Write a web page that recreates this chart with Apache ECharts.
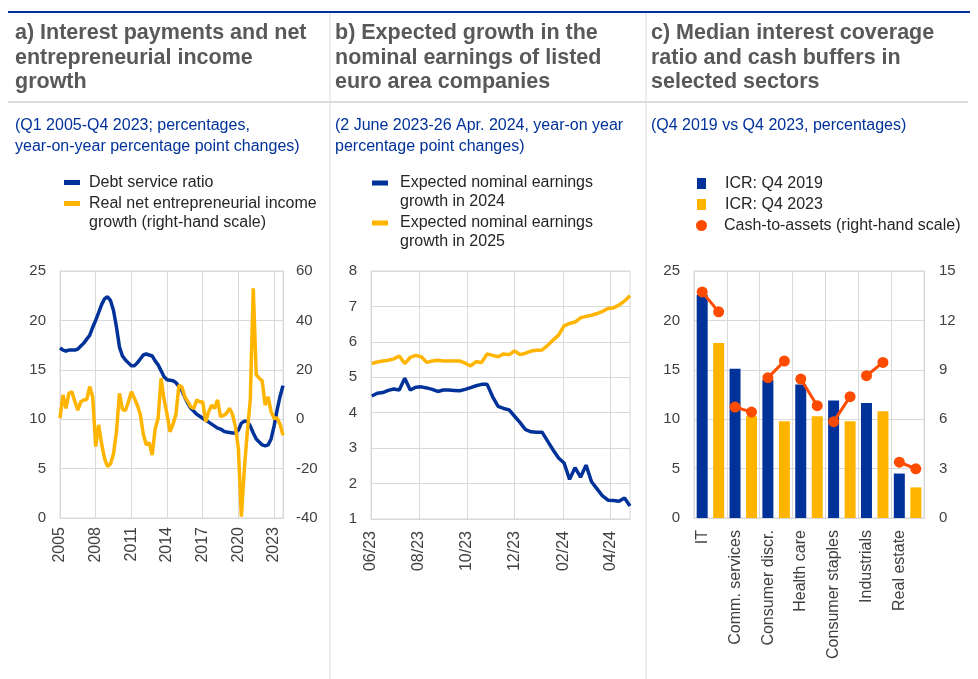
<!DOCTYPE html>
<html><head><meta charset="utf-8">
<script src="https://cdn.jsdelivr.net/npm/echarts@6/dist/echarts.min.js"></script>
<style>html,body{margin:0;padding:0;background:#fff}#c{width:978px;height:679px}</style>
</head><body><div id="c"></div>
<script>
// ---------- Panel a ----------
const panelAYears = ['2005','2006','2007','2008','2009','2010','2011','2012','2013','2014','2015','2016','2017','2018','2019','2020','2021','2022','2023'];
const debtServiceRatio = [
 17.2,17.0,16.9,17.0,17.0,17.0,17.1,17.4,17.7,18.1,
 18.5,19.3,20.0,20.8,21.6,22.2,22.4,22.0,21.0,19.3,
 17.3,16.4,16.0,15.7,15.4,15.4,15.7,16.1,16.5,16.6,
 16.5,16.4,15.9,15.5,14.9,14.3,14.0,13.95,13.9,13.7,
 13.3,12.9,12.2,11.6,11.1,10.8,10.5,10.3,10.1,9.9,
 9.7,9.5,9.3,9.1,9.0,8.8,8.7,8.65,8.6,8.6,
 8.9,9.6,9.8,9.8,9.3,8.6,8.0,7.7,7.4,7.3,
 7.4,8.0,9.3,10.9,12.3,13.4];
const entrepreneurialIncomeGrowth = [
 0.4,9.8,4.4,10.5,11.1,7.1,3.7,7.1,7.8,8.0,
 13.2,9.0,-11.1,-2.3,-10.0,-16.0,-19.2,-18.0,-14.0,-5.0,
 10.5,4.0,3.5,7.0,11.1,8.5,5.7,2.0,-6.0,-10.4,
 -9.5,-14.5,-4.0,0.4,16.6,8.0,2.0,-5.1,-2.0,2.0,
 13.8,13.0,9.0,7.1,5.0,4.4,7.8,7.0,7.1,-1.0,
 3.0,5.7,4.4,7.8,1.0,1.5,2.4,4.4,2.0,-3.0,
 -12.0,-39.5,-20.0,-5.0,8.0,53.0,18.0,16.6,15.5,5.7,
 9.1,3.0,0.4,0.5,-2.0,-6.5];

// ---------- Panel b ----------
const weekDates = [
 '2023-06-02','2023-06-09','2023-06-16','2023-06-23','2023-06-30','2023-07-07','2023-07-14','2023-07-21','2023-07-28',
 '2023-08-04','2023-08-11','2023-08-18','2023-08-25','2023-09-01','2023-09-08','2023-09-15','2023-09-22','2023-09-29',
 '2023-10-06','2023-10-13','2023-10-20','2023-10-27','2023-11-03','2023-11-10','2023-11-17','2023-11-24',
 '2023-12-01','2023-12-08','2023-12-15','2023-12-22','2023-12-29','2024-01-05','2024-01-12','2024-01-19','2024-01-26',
 '2024-02-02','2024-02-09','2024-02-16','2024-02-23','2024-03-01','2024-03-08','2024-03-15','2024-03-22','2024-03-29',
 '2024-04-05','2024-04-12','2024-04-19','2024-04-26'];
const earnings2024 = [
 4.47,4.55,4.57,4.63,4.67,4.64,4.97,4.64,4.72,4.73,
 4.70,4.66,4.60,4.64,4.64,4.63,4.62,4.66,4.71,4.76,
 4.80,4.80,4.45,4.18,4.12,4.08,3.90,3.72,3.52,3.46,
 3.45,3.45,3.20,2.95,2.72,2.58,2.12,2.45,2.18,2.52,
 2.05,1.85,1.65,1.53,1.52,1.50,1.59,1.37];
const earnings2025 = [
 5.39,5.43,5.46,5.48,5.52,5.60,5.39,5.56,5.62,5.58,
 5.42,5.46,5.48,5.46,5.46,5.46,5.46,5.40,5.32,5.44,
 5.42,5.66,5.62,5.58,5.66,5.64,5.74,5.64,5.68,5.74,
 5.76,5.77,5.90,6.05,6.19,6.45,6.52,6.56,6.68,6.72,
 6.75,6.80,6.86,6.94,6.96,7.04,7.15,7.30];
const panelBTickDates = ['2023-06-01','2023-08-01','2023-10-01','2023-12-01','2024-02-01','2024-04-01'];
const panelBTickLabels = ['06/23','08/23','10/23','12/23','02/24','04/24'];
const panelBRange = ['2023-06-01','2024-04-26'];

// ---------- Panel c ----------
const sectors = ['IT','Comm. services','Consumer discr.','Health care','Consumer staples','Industrials','Real estate'];
const icrQ42019 = [22.6,15.1,14.0,13.5,11.9,11.65,4.5];
const icrQ42023 = [17.7,10.3,9.8,10.3,9.8,10.8,3.1];
const cashToAssets2019 = [13.73,6.74,8.52,8.44,5.85,8.64,3.39];
const cashToAssets2023 = [12.52,6.43,9.53,6.82,7.37,9.45,2.99];

const BLUE = '#003299', YELLOW = '#FFB400', ORANGE = '#FF4B00';
const GRID = '#d9d9d9', AXIS_TXT = '#404040', FONT = 'Liberation Sans, Arial, sans-serif';

const quarterCats = [];
panelAYears.forEach(y => ['Q1','Q2','Q3','Q4'].forEach(q => quarterCats.push(y + ' ' + q)));
const pd = s => echarts.number.parseDate(s).getTime();
const tickTimes = panelBTickDates.map(pd);

const nameDSR = 'Debt service ratio';
const nameINC = 'Real net entrepreneurial income\ngrowth (right-hand scale)';
const nameE24 = 'Expected nominal earnings\ngrowth in 2024';
const nameE25 = 'Expected nominal earnings\ngrowth in 2025';
const nameI19 = 'ICR: Q4 2019';
const nameI23 = 'ICR: Q4 2023';
const nameCash = 'Cash-to-assets (right-hand scale)';

const chart = echarts.init(document.getElementById('c'), null, {renderer: 'canvas'});

const yLab = {color: AXIS_TXT, fontSize: 15, fontFamily: FONT};
const split = {show: true, lineStyle: {color: GRID, width: 1}};
const axLine = {show: true, lineStyle: {color: GRID, width: 1}};

function legendItem(name, left, iconCenterY, icon, w, h, lines, padLeft) {
  const L = 19;
  const textH = lines === 2 ? 3 * L : L;
  const boxH = Math.max(textH, h);
  return {
    show: true, data: [{name: name, icon: icon}], left: left, top: iconCenterY - boxH / 2,
    padding: 0, itemWidth: w, itemHeight: h, selectedMode: false, orient: 'vertical',
    formatter: lines === 2 ? (n => '\n' + n) : (n => n),
    textStyle: {color: '#262626', fontSize: 16, fontFamily: FONT, lineHeight: L, padding: [0, 0, 0, padLeft]}
  };
}

const cashSeries = sectors.map((s, i) => ({
  type: 'line', name: nameCash, xAxisIndex: 3, yAxisIndex: 4,
  data: [[2 * i + 0.5, cashToAssets2019[i]], [2 * i + 1.5, cashToAssets2023[i]]],
  symbol: 'circle', symbolSize: 11, showSymbol: true,
  lineStyle: {color: ORANGE, width: 3}, itemStyle: {color: ORANGE}, z: 5
}));

const titleStyle = {color: '#595959', fontSize: 21.5, fontWeight: 'bold', lineHeight: 24.5, fontFamily: FONT};
const subStyle = {color: BLUE, fontSize: 16, fontWeight: 'normal', lineHeight: 21, fontFamily: FONT};

const option = {
  animation: false,
  backgroundColor: '#fff',
  textStyle: {fontFamily: FONT},
  title: [
    {text: 'a) Interest payments and net\nentrepreneurial income\ngrowth', left: 15, top: 21, padding: 0, textStyle: titleStyle},
    {text: 'b) Expected growth in the\nnominal earnings of listed\neuro area companies', left: 335, top: 21, padding: 0, textStyle: titleStyle},
    {text: 'c) Median interest coverage\nratio and cash buffers in\nselected sectors', left: 651, top: 21, padding: 0, textStyle: titleStyle},
    {text: '(Q1 2005-Q4 2023; percentages,\nyear-on-year percentage point changes)', left: 15, top: 115.5, padding: 0, textStyle: subStyle},
    {text: '(2 June 2023-26 Apr. 2024, year-on year\npercentage point changes)', left: 335, top: 115.5, padding: 0, textStyle: subStyle},
    {text: '(Q4 2019 vs Q4 2023, percentages)', left: 651, top: 115.5, padding: 0, textStyle: subStyle}
  ],
  graphic: [
    {type: 'rect', shape: {x: 8, y: 11, width: 962, height: 2}, style: {fill: BLUE}, silent: true},
    {type: 'rect', shape: {x: 8, y: 101, width: 960, height: 2}, style: {fill: '#dcdcdc'}, silent: true},
    {type: 'rect', shape: {x: 329.5, y: 13, width: 1, height: 666}, style: {fill: '#dcdcdc'}, silent: true},
    {type: 'rect', shape: {x: 645.5, y: 13, width: 1, height: 666}, style: {fill: '#dcdcdc'}, silent: true}
  ],
  legend: [
    legendItem(nameDSR, 64, 182.5, 'rect', 16, 5, 1, 4),
    legendItem(nameINC, 64, 203.5, 'rect', 16, 5, 2, 4),
    legendItem(nameE24, 372, 183, 'rect', 16, 5, 2, 7),
    legendItem(nameE25, 372, 223, 'rect', 16, 5, 2, 7),
    legendItem(nameI19, 697, 183.5, 'rect', 9, 11, 1, 14),
    legendItem(nameI23, 697, 204.5, 'rect', 9, 11, 1, 14),
    legendItem(nameCash, 696, 225.5, 'circle', 11, 11, 1, 12)
  ],
  grid: [
    {left: 60, top: 271, width: 223, height: 247, show: true, borderColor: GRID, borderWidth: 1},
    {left: 371, top: 271, width: 259, height: 248, show: true, borderColor: GRID, borderWidth: 1},
    {left: 694, top: 271, width: 230, height: 247, show: true, borderColor: GRID, borderWidth: 1}
  ],
  xAxis: [
    {type: 'category', gridIndex: 0, data: quarterCats, boundaryGap: false,
     axisLine: axLine, axisTick: {show: false},
     axisLabel: {interval: 11, rotate: 90, margin: 9, color: AXIS_TXT, fontSize: 16, fontFamily: FONT,
                 formatter: v => v.slice(0, 4)},
     splitLine: {show: true, interval: 11, lineStyle: {color: GRID}}},
    {type: 'value', gridIndex: 1, min: pd(panelBRange[0]), max: pd(panelBRange[1]),
     axisLine: axLine, axisTick: {show: false, customValues: tickTimes},
     axisLabel: {customValues: tickTimes, rotate: 90, margin: 12, color: AXIS_TXT, fontSize: 16, fontFamily: FONT,
                 formatter: v => { const k = tickTimes.indexOf(v); return k >= 0 ? panelBTickLabels[k] : ''; }},
     splitLine: {show: true, lineStyle: {color: GRID}}},
    {type: 'category', gridIndex: 2, data: sectors, boundaryGap: true,
     axisLine: axLine, axisTick: {show: false},
     axisLabel: {interval: 0, rotate: 90, margin: 12, color: AXIS_TXT, fontSize: 16, fontFamily: FONT, verticalAlign: 'bottom'},
     splitLine: {show: true, interval: 0, lineStyle: {color: GRID}}},
    {type: 'value', gridIndex: 2, min: 0, max: 14, show: false}
  ],
  yAxis: [
    {type: 'value', gridIndex: 0, min: 0, max: 25, interval: 5, axisLine: axLine, axisTick: {show: false},
     axisLabel: Object.assign({margin: 14}, yLab), splitLine: split},
    {type: 'value', gridIndex: 0, min: -40, max: 60, interval: 20, position: 'right', axisLine: axLine, axisTick: {show: false},
     axisLabel: Object.assign({margin: 13}, yLab), splitLine: {show: false}},
    {type: 'value', gridIndex: 1, min: 1, max: 8, interval: 1, axisLine: axLine, axisTick: {show: false},
     axisLabel: Object.assign({margin: 14}, yLab), splitLine: split},
    {type: 'value', gridIndex: 2, min: 0, max: 25, interval: 5, axisLine: axLine, axisTick: {show: false},
     axisLabel: Object.assign({margin: 14}, yLab), splitLine: split},
    {type: 'value', gridIndex: 2, min: 0, max: 15, interval: 3, position: 'right', axisLine: axLine, axisTick: {show: false},
     axisLabel: Object.assign({margin: 15}, yLab), splitLine: {show: false}}
  ],
  series: [
    {type: 'line', name: nameDSR, xAxisIndex: 0, yAxisIndex: 0, data: debtServiceRatio, showSymbol: false, symbol: 'none',
     lineStyle: {color: BLUE, width: 3.5}, itemStyle: {color: BLUE}, z: 3},
    {type: 'line', name: nameINC, xAxisIndex: 0, yAxisIndex: 1, data: entrepreneurialIncomeGrowth, showSymbol: false, symbol: 'none',
     lineStyle: {color: YELLOW, width: 3.5}, itemStyle: {color: YELLOW}, z: 4},
    {type: 'line', name: nameE24, xAxisIndex: 1, yAxisIndex: 2, data: weekDates.map((d, i) => [pd(d), earnings2024[i]]), showSymbol: false, symbol: 'none',
     lineStyle: {color: BLUE, width: 3.5}, itemStyle: {color: BLUE}},
    {type: 'line', name: nameE25, xAxisIndex: 1, yAxisIndex: 2, data: weekDates.map((d, i) => [pd(d), earnings2025[i]]), showSymbol: false, symbol: 'none',
     lineStyle: {color: YELLOW, width: 3.5}, itemStyle: {color: YELLOW}},
    {type: 'bar', name: nameI19, xAxisIndex: 2, yAxisIndex: 3, data: icrQ42019, barWidth: 11, barGap: '50%', itemStyle: {color: BLUE}},
    {type: 'bar', name: nameI23, xAxisIndex: 2, yAxisIndex: 3, data: icrQ42023, barWidth: 11, barGap: '50%', itemStyle: {color: YELLOW}}
  ].concat(cashSeries)
};
chart.setOption(option);
</script>
</body></html>
